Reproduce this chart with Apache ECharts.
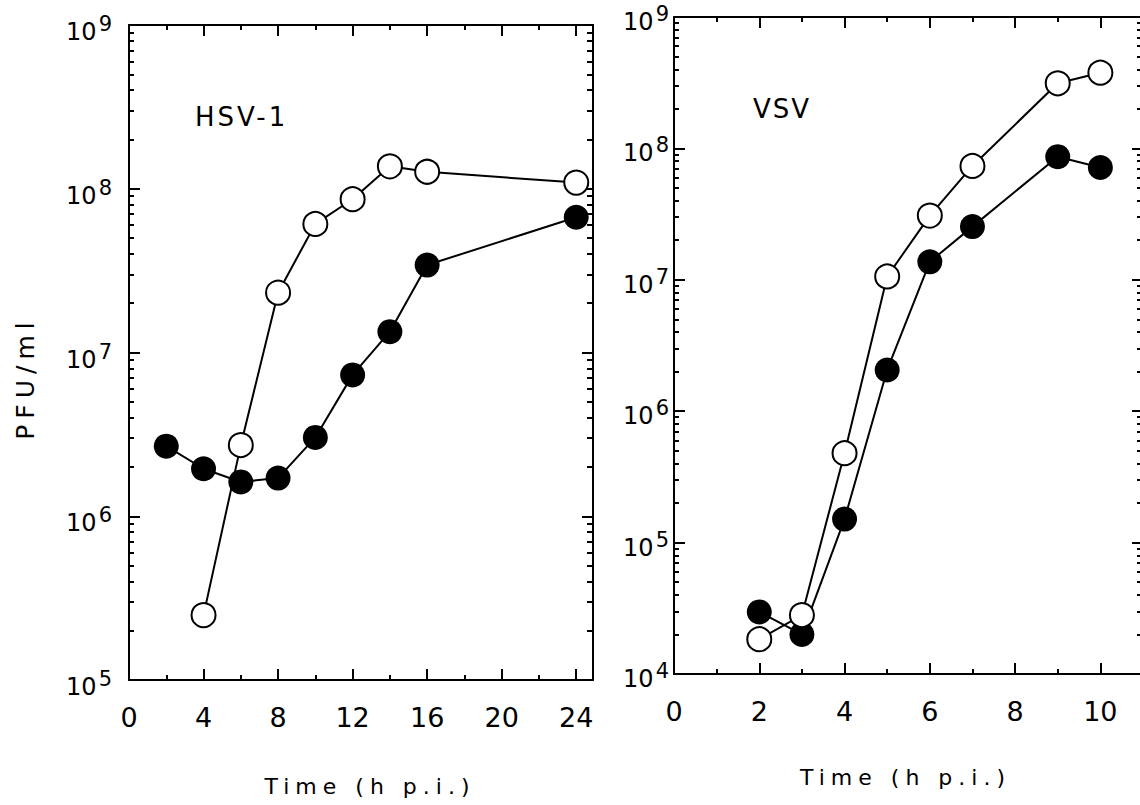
<!DOCTYPE html>
<html><head><meta charset="utf-8">
<script src="https://cdn.jsdelivr.net/npm/echarts@6/dist/echarts.min.js"></script>
<style>html,body{margin:0;padding:0;background:#fff}#c{width:1140px;height:805px}</style>
</head><body><div id="c"></div><script>
// ---- data ----
const hsvOpenTimes   = [4, 6, 8, 10, 12, 14, 16, 24];
const hsvOpenPFU     = [2.49e5, 2.72e6, 2.32e7, 6.1e7, 8.63e7, 1.37e8, 1.27e8, 1.09e8];
const hsvFilledTimes = [2, 4, 6, 8, 10, 12, 14, 16, 24];
const hsvFilledPFU   = [2.68e6, 1.95e6, 1.62e6, 1.71e6, 3.03e6, 7.3e6, 1.34e7, 3.42e7, 6.7e7];
const vsvTimes       = [2, 3, 4, 5, 6, 7, 9, 10];
const vsvOpenPFU     = [1.84e4, 2.81e4, 4.79e5, 1.06e7, 3.08e7, 7.35e7, 3.13e8, 3.77e8];
const vsvFilledPFU   = [2.97e4, 2.0e4, 1.51e5, 2.06e6, 1.37e7, 2.54e7, 8.65e7, 7.16e7];
const hsvXTicks = [0, 4, 8, 12, 16, 20, 24];
const hsvXMinor = [2, 6, 10, 14, 18, 22];
const vsvXTicks = [0, 2, 4, 6, 8, 10];
const vsvXMinor = [1, 3, 5, 7, 9];
const hsvYTicks = [1e5, 1e6, 1e7, 1e8, 1e9];
const vsvYTicks = [1e4, 1e5, 1e6, 1e7, 1e8, 1e9];
const xTitle = 'Time (h p.i.)';
const yTitle = 'PFU/ml';
const panelNames = ['HSV-1', 'VSV'];

const FONT = 'DejaVu Sans';
function minorLog(majors) {
  const out = [];
  for (let i = 0; i < majors.length - 1; i++) for (let k = 2; k <= 9; k++) out.push(majors[i] * k);
  return out;
}
const pair = (ts, vs) => ts.map((t, i) => [t, vs[i]]);

function xAxes(g, max, majors, minors, nameGap, namePad) {
  const base = {type: 'value', gridIndex: g, min: 0, max: max, splitLine: {show: false}, axisPointer: {show: false}};
  const tickStyle = {color: '#000', width: 2};
  const line = {show: true, onZero: false, lineStyle: {color: '#000', width: 2}};
  return [
    Object.assign({}, base, {position: 'bottom', axisLine: line,
      axisTick: {show: true, inside: true, length: 11, customValues: majors, lineStyle: tickStyle},
      axisLabel: {show: true, customValues: majors, margin: 24, fontSize: 27, fontFamily: FONT, color: '#000'},
      name: xTitle, nameLocation: 'middle', nameGap: nameGap,
      nameTextStyle: {fontSize: 22, fontFamily: FONT, color: '#000', padding: namePad}}),
    Object.assign({}, base, {position: 'bottom', axisLine: {show: false, onZero: false},
      axisTick: {show: true, inside: true, length: 5, customValues: minors, lineStyle: tickStyle},
      axisLabel: {show: false}}),
    Object.assign({}, base, {position: 'top', axisLine: line,
      axisTick: {show: true, inside: true, length: 11, customValues: majors, lineStyle: tickStyle},
      axisLabel: {show: false}}),
    Object.assign({}, base, {position: 'top', axisLine: {show: false, onZero: false},
      axisTick: {show: true, inside: true, length: 5, customValues: minors, lineStyle: tickStyle},
      axisLabel: {show: false}})
  ];
}
function yAxes(g, majors, labelMargin, labelPad) {
  const minors = minorLog(majors);
  const base = {type: 'log', logBase: 10, gridIndex: g, min: majors[0], max: majors[majors.length - 1],
    splitLine: {show: false}, axisPointer: {show: false}};
  const tickStyle = {color: '#000', width: 2};
  const line = {show: true, onZero: false, lineStyle: {color: '#000', width: 2}};
  return [
    Object.assign({}, base, {position: 'left', axisLine: line,
      axisTick: {show: true, inside: true, length: 11, customValues: majors, lineStyle: tickStyle},
      axisLabel: {show: true, customValues: majors, margin: labelMargin, padding: labelPad,
        formatter: v => '{b|10}{s|' + Math.round(Math.log10(v)) + '}',
        rich: {
          b: {fontSize: 24, fontFamily: FONT, color: '#000', padding: [0, 2, 0, 0]},
          s: {fontSize: 21, fontFamily: FONT, color: '#000', padding: [0, 0, 16, 0]}
        }}}),
    Object.assign({}, base, {position: 'left', axisLine: {show: false, onZero: false},
      axisTick: {show: true, inside: true, length: 5, customValues: minors, lineStyle: tickStyle},
      axisLabel: {show: false}}),
    Object.assign({}, base, {position: 'right', axisLine: line,
      axisTick: {show: true, inside: true, length: 11, customValues: majors, lineStyle: tickStyle},
      axisLabel: {show: false}}),
    Object.assign({}, base, {position: 'right', axisLine: {show: false, onZero: false},
      axisTick: {show: true, inside: true, length: 6, customValues: minors, lineStyle: tickStyle},
      axisLabel: {show: false}})
  ];
}

function series(name, data, xi, yi, filled) {
  return {
    type: 'line', name: name, data: data, xAxisIndex: xi, yAxisIndex: yi,
    symbol: 'circle', symbolSize: filled ? 25 : 24, showSymbol: true,
    lineStyle: {color: '#000', width: 2},
    itemStyle: filled ? {color: '#000', borderColor: '#000', borderWidth: 0}
                      : {color: '#fff', borderColor: '#000', borderWidth: 2},
    emphasis: {disabled: true}, animation: false, z: filled ? 2 : 3
  };
}

const chart = echarts.init(document.getElementById('c'), null, {renderer: 'svg'});
chart.setOption({
  animation: false,
  backgroundColor: '#fff',
  textStyle: {fontFamily: FONT, color: '#000'},
  grid: [
    {left: 129, top: 25, width: 464, height: 655, outerBoundsMode: 'none', containLabel: false},
    {left: 674, top: 17, width: 469, height: 657, outerBoundsMode: 'none', containLabel: false}
  ],
  xAxis: [].concat(
    xAxes(0, 24.9, hsvXTicks, hsvXMinor, 95, [0, 0, 0, 18]),
    xAxes(1, 11, vsvXTicks, vsvXMinor, 92, [0, 6, 0, 0])
  ),
  yAxis: [].concat(
    yAxes(0, hsvYTicks, 17, [14, 0, 0, 0]),
    yAxes(1, vsvYTicks, 5, [10, 0, 0, 0])
  ),
  graphic: [
    {type: 'text', left: 195, top: 104, style: {text: panelNames[0], fontSize: 26, fontFamily: FONT, fill: '#000'}},
    {type: 'text', left: 753, top: 96, style: {text: panelNames[1], fontSize: 26, fontFamily: FONT, fill: '#000'}},
    {type: 'text', x: 25, y: 378, rotation: Math.PI / 2,
      style: {text: yTitle, x: 0, y: 0, fontSize: 25, fontFamily: FONT, fill: '#000',
        align: 'center', verticalAlign: 'middle', textAlign: 'center', textVerticalAlign: 'middle'}}
  ],
  series: [
    series('HSV-1 filled', pair(hsvFilledTimes, hsvFilledPFU), 0, 0, true),
    series('HSV-1 open', pair(hsvOpenTimes, hsvOpenPFU), 0, 0, false),
    series('VSV filled', pair(vsvTimes, vsvFilledPFU), 4, 4, true),
    series('VSV open', pair(vsvTimes, vsvOpenPFU), 4, 4, false)
  ]
});

// letter spacing for the wide typewriter-like titles
const spacing = {'Time (h p.i.)': 6, 'PFU/ml': 6, 'HSV-1': 3, 'VSV': 2};
function applySpacing() {
  document.querySelectorAll('#c svg text').forEach(t => {
    const s = spacing[t.textContent];
    if (s) t.setAttribute('letter-spacing', s);
  });
}
applySpacing();
chart.on('finished', applySpacing);
</script></body></html>
